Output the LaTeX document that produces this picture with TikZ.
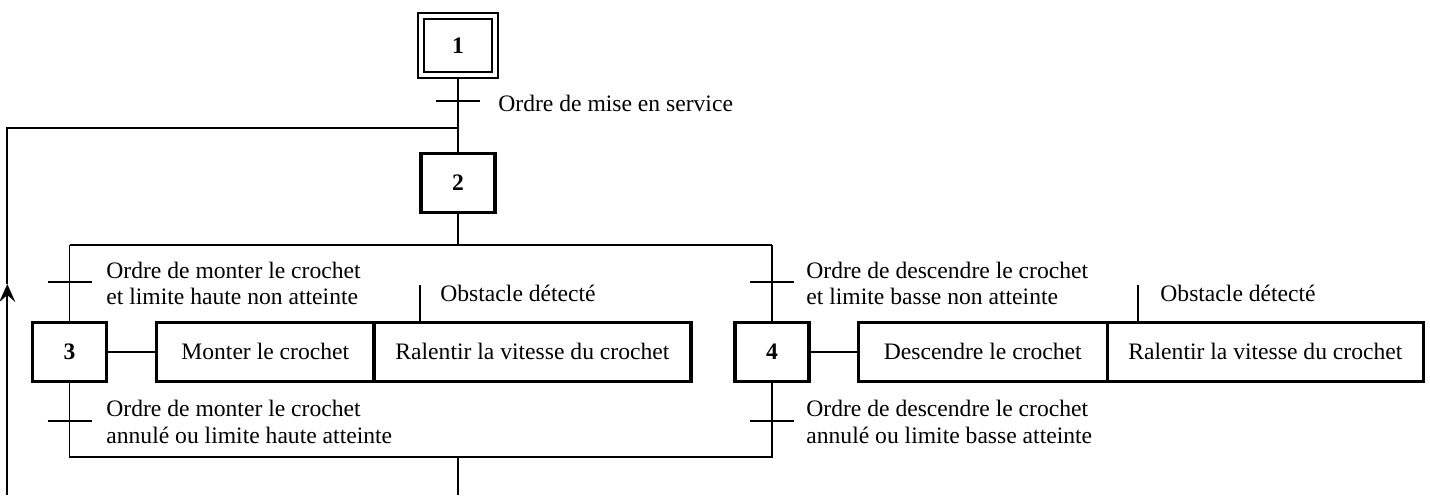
\documentclass[tikz,border=0pt]{standalone}
\usepackage{fontspec}
\setmainfont{Liberation Serif}
\usetikzlibrary{arrows.meta}
\tikzset{
  stepbox/.style={draw, line width=1.7pt, minimum width=37pt, minimum height=29.5pt,
    inner sep=0pt, outer sep=0pt, font=\fontsize{11.8}{13.3}\selectfont\bfseries},
  initbox/.style={stepbox, line width=1pt, double, double distance=2pt},
  actbox/.style={draw, line width=1.7pt, minimum height=29.5pt, inner sep=0pt, outer sep=0pt},
  link/.style={line width=0.85pt},
  transbar/.style={line width=1pt},
  cond/.style={anchor=base west, inner sep=0pt},
  looptip/.tip={Stealth[length=9pt, width=8pt, inset=3.5pt]},
}
\begin{document}
\begin{tikzpicture}[x=0.5pt, y=-0.5pt, font=\fontsize{11.8}{13.3}\selectfont]
\useasboundingbox (0,0) rectangle (1430,495);

% steps
\node[initbox] (s1) at (458,45.4) {1};
\node[stepbox] (s2) at (458,183) {2};
\node[stepbox] (s3) at (69.5,351.7) {3};
\node[stepbox] (s4) at (772,351.7) {4};

% actions
\node[actbox, minimum width=108.75pt, anchor=west] (a3) at (156.5,351.7) {Monter le crochet};
\node[actbox, minimum width=158.4pt, anchor=west] (a3s) at (a3.east) {Ralentir la vitesse du crochet};
\node[actbox, minimum width=124.55pt, anchor=west] (a4) at (858.2,351.7) {Descendre le crochet};
\node[actbox, minimum width=158.1pt, anchor=west] (a4s) at (a4.east) {Ralentir la vitesse du crochet};

% receptivities
\node[cond] (c1) at (498,111.7) {Ordre de mise en service};
\node[cond] (c3a) at (106,278.3) {Ordre de monter le crochet};
\node[cond] (c3b) at (106,304.9) {et limite haute non atteinte};
\node[cond] (c3c) at (106,416.7) {Ordre de monter le crochet};
\node[cond] (c3d) at (106,443.3) {annulé ou limite haute atteinte};
\node[cond] (c4a) at (806,278.3) {Ordre de descendre le crochet};
\node[cond] (c4b) at (806,304.9) {et limite basse non atteinte};
\node[cond] (c4c) at (806,416.7) {Ordre de descendre le crochet};
\node[cond] (c4d) at (806,443.3) {annulé ou limite basse atteinte};
\node[cond] (o3) at (440,301.7) {Obstacle détecté};
\node[cond] (o4) at (1160,301.7) {Obstacle détecté};

% points on the links
\coordinate (t1) at (458,100.7);
\coordinate (j1) at (458,127.7);
\coordinate (d2) at (458,245);
\coordinate (dl) at (69.5,245);
\coordinate (dr) at (772,245);
\coordinate (ul) at (69.5,456.7);
\coordinate (ur) at (772,456.7);
\coordinate (u2) at (458,456.7);
\coordinate (out) at (458,495);
\coordinate (t3a) at (69.5,282.3);
\coordinate (t3b) at (69.5,421);
\coordinate (t4a) at (772,282.3);
\coordinate (t4b) at (772,421);
\coordinate (lb) at (7.3,495);
\coordinate (la) at (7.3,284);
\coordinate (lc) at (7.3,127.7);
\coordinate (ob3) at (420,285);
\coordinate (ob4) at (1138.3,285);

% links
\draw[link] ([yshift=-2pt]s1.south) -- (s2.north);
\draw[link] (s2.south) -- (d2);
\draw[link] (dl) -- (dr);
\draw[link] (dl) -- (s3.north);
\draw[link] (dr) -- (s4.north);
\draw[link] (s3.south) -- (ul) -- (ur) -- (s4.south);
\draw[link] (u2) -- (out);
\draw[link] (s3.east) -- (a3.west);
\draw[link] (s4.east) -- (a4.west);
\draw[link] (ob3) -- (ob3 |- a3s.north);
\draw[link] (ob4) -- (ob4 |- a4s.north);

% return loop
\draw[link, -looptip] (lb) -- (la);
\draw[link] (la) -- (lc) -- (j1);

% transitions
\draw[transbar] (t1) +(-22,0) -- +(22,0);
\draw[transbar] (t3a) +(-22,0) -- +(22,0);
\draw[transbar] (t3b) +(-22,0) -- +(22,0);
\draw[transbar] (t4a) +(-22,0) -- +(22,0);
\draw[transbar] (t4b) +(-22,0) -- +(22,0);
\end{tikzpicture}
\end{document}
